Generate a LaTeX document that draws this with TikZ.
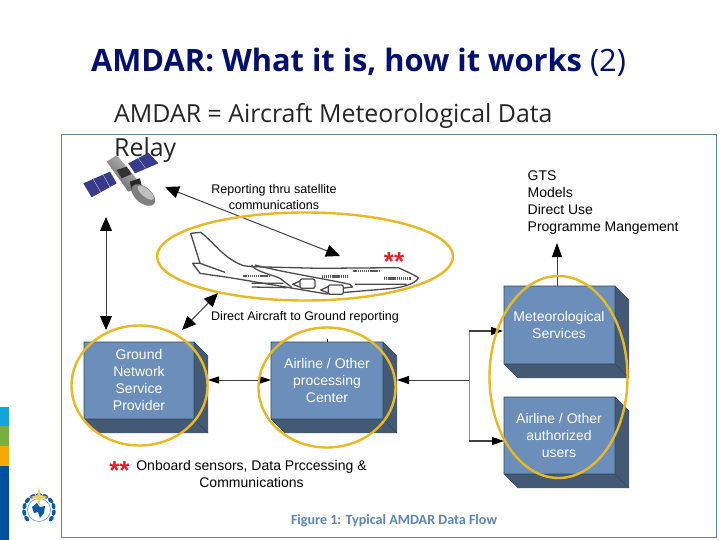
\documentclass[tikz,border=0pt]{standalone}
\usepackage{fontspec}
\setmainfont{Liberation Sans}
\newfontfamily\titlefont{Open Sans}
\newfontfamily\capfont{Carlito}
\usetikzlibrary{arrows.meta}
\definecolor{boxfront}{HTML}{6C8EBB}
\definecolor{boxside}{HTML}{445A74}
\definecolor{boxedge}{HTML}{2F4A50}
\definecolor{ringc}{HTML}{E8B923}
\definecolor{framec}{HTML}{5F8296}
\definecolor{titlec}{HTML}{00106E}
\definecolor{capc}{HTML}{5B86B8}
\definecolor{starc}{HTML}{E0202A}
\definecolor{wmob}{HTML}{0B5AA5}
\definecolor{stripa}{HTML}{12A5D8}
\definecolor{stripb}{HTML}{78B040}
\definecolor{stripc}{HTML}{F5A800}
\definecolor{stripd}{HTML}{0050A0}
\definecolor{panelc}{HTML}{3A3A8A}
\tikzset{
  lbl/.style={inner sep=0pt,text=black,font=\fontsize{12.5}{15.5}\selectfont,align=center},
  boxt/.style={inner sep=0pt,text=white,font=\fontsize{14}{17}\selectfont,align=center},
  ring/.style={draw=ringc,line width=2.4pt},
  conn/.style={draw=black!75,line width=1pt,{Triangle[length=14pt,width=12pt,black]}-{Triangle[length=14pt,width=12pt,black]}},
  connsm/.style={draw=black!75,line width=.8pt,{Triangle[length=11pt,width=7pt,black]}-{Triangle[length=11pt,width=7pt,black]}},
  connr/.style={draw=black!75,line width=.8pt,-{Triangle[length=12pt,width=8pt,black]}},
  stars/.style={inner sep=0pt,text=starc,font=\bfseries\fontsize{26}{26}\selectfont},
  planeline/.style={draw=black!70,line width=1.3pt,line join=round},
  win/.style={draw=black!65,line width=2.4pt,dash pattern=on 1.4pt off .7pt},
}
\newcommand{\cube}[4]{% x1 y1 x2 y2
  \fill[boxside] (#1,#4) -- (#1+14,#4+14) -- (#3+14,#4+14) -- (#3+14,#2+14) -- (#3,#2) -- (#3,#4) -- cycle;
  \fill[boxfront] (#1,#2) rectangle (#3,#4);
  \draw[boxedge,line width=.6pt] (#1,#2) rectangle (#3,#4) (#3,#4) -- (#3+14,#4+14) (#3,#2) -- (#3+14,#2+14) (#1,#4) -- (#1+14,#4+14);
}
\begin{document}
\begin{tikzpicture}[x=1pt,y=-1pt]
\useasboundingbox (0,0) rectangle (720,540);
\fill[white] (0,0) rectangle (720,540);
% side strip
\fill[stripa] (0,407) rectangle (9,426);
\fill[stripb] (0,426) rectangle (9,446);
\fill[stripc] (0,446) rectangle (9,466);
\fill[stripd] (0,466) rectangle (9,540);
% frame
\draw[framec,line width=.9pt] (61.5,134.5) rectangle (716.5,537);
% title
\node[inner sep=0pt,anchor=base west,text=titlec,font=\titlefont\fontsize{30.8}{32}\selectfont] (title) at (91,72) {\textbf{AMDAR: What it is, how it works} (2)};
\node[inner sep=0pt,anchor=base west,text=black!85,font=\titlefont\fontsize{24.9}{30}\selectfont] (sub1) at (114,123) {AMDAR = Aircraft Meteorological Data};
\node[inner sep=0pt,anchor=base west,text=black!85,font=\titlefont\fontsize{24.9}{30}\selectfont] (sub2) at (114,157) {Relay};
% WMO logo
\begin{scope}[shift={(39,510)}]
  \foreach \a in {55,80,...,310}{\fill[wmob,rotate=\a] (0,15) ellipse (3.2pt and 2pt);}
  \draw[wmob!60,line width=.6pt] (0,0) circle (11.5);
  \fill[wmob] (-7,-3) -- (-2,-7) -- (1,-3) -- (6,-4) -- (5,3) -- (1,8) -- (-1,2) -- (-5,3) -- cycle;
  \fill[ringc!70!white] (0,-23) -- (1.6,-15) -- (9,-13) -- (1.6,-11) -- (0,-3) -- (-1.6,-11) -- (-9,-13) -- (-1.6,-15) -- cycle;
\end{scope}
% boxes
\cube{84}{342}{194}{419}
\cube{271}{342}{383}{419}
\cube{504}{286}{615}{364}
\cube{504}{397}{615}{474}
\coordinate (gtop) at (106,330);
\coordinate (gdiag) at (182,330);
\coordinate (gr) at (208,380);
\coordinate (cl) at (271,380);
\coordinate (cr) at (397,380);
\coordinate (jn) at (469,380);
\coordinate (jt) at (469,331);
\coordinate (jb) at (469,441);
\coordinate (ml) at (503,331);
\coordinate (ul) at (504,441);
\coordinate (mt) at (557,286);
\coordinate (mup) at (557,243);
\coordinate (satb) at (106,217);
\coordinate (satr) at (165,187);
\coordinate (pl) at (340,256);
\coordinate (pb) at (218,293);
% connectors
\draw[conn] (satb) -- (gtop);
\draw[conn] (satr) -- (pl);
\draw[conn] (pb) -- (gdiag);
\draw[connsm] (gr) -- (cl);
\draw[connr] (jn) -- (cr);
\draw[draw=black!45,line width=.7pt] (jt) -- (jb);
\draw[connr,line width=1.2pt] (jt) -- (ml);
\draw[connr,line width=1.2pt] (jb) -- (ul);
\draw[connr,-{Triangle[length=14pt,width=10pt,black]}] (mt) -- (mup);
\draw[black,line width=.5pt] (327,339) -- (327,342);
% satellite (crop coordinates)
\begin{scope}[shift={(75,150)},x=.3333pt,y=-.3333pt]
  \fill[panelc] (25,100) -- (105,65) -- (125,100) -- (50,142) -- cycle;
  \fill[panelc] (160,40) -- (220,8) -- (250,40) -- (180,70) -- cycle;
  \draw[white!70!panelc,line width=.4pt] (55,88) -- (78,128) (85,75) -- (105,112) (190,25) -- (212,55);
  \shade[left color=black!25,right color=black!60,shading angle=-40] (95,35) -- (125,15) -- (200,105) -- (160,125) -- cycle;
  \fill[black!80] (125,60) -- (155,50) -- (170,72) -- (140,85) -- cycle;
  \fill[black!85] (165,95) -- (195,85) -- (200,108) -- (170,125) -- cycle;
  \fill[black!50,rotate around={-40:(205,135)}] (205,135) ellipse (42 and 24);
  \fill[black!25,rotate around={-40:(212,128)}] (212,128) ellipse (30 and 12);
\end{scope}
% aeroplane (crop coordinates)
\begin{scope}[shift={(180,225)},x=.3333pt,y=-.3333pt]
  \draw[planeline] (32,25) -- (62,22) .. controls (100,50) and (130,100) .. (190,122) -- (215,125) -- (420,130) -- (655,128) .. controls (680,140) and (700,148) .. (715,158) .. controls (712,172) and (680,185) .. (640,190) -- (520,200) -- (440,207) -- (340,190) -- (150,158) -- (60,145) -- (38,115) -- (60,115) -- (135,142);
  \draw[planeline] (32,25) -- (60,115);
  \draw[planeline] (215,120) .. controls (225,140) and (280,150) .. (300,160) -- (335,187);
  \draw[planeline] (225,120) .. controls (300,140) and (400,155) .. (510,178) -- (518,186) -- (485,190);
  \draw[planeline] (215,175) -- (310,175) (215,186) -- (320,188) (525,178) -- (680,178);
  \draw[planeline,fill=white,rounded corners=2pt] (360,162) rectangle (405,190);
  \draw[planeline,fill=white,rounded corners=2pt] (445,180) rectangle (490,208);
  \draw[planeline] (360,168) -- (338,178) -- (360,186);
  \draw[planeline] (445,185) -- (422,195) -- (445,204);
  \draw[win] (190,153) -- (270,153) (425,155) -- (505,155) (520,138) -- (600,138) (612,160) -- (692,160);
\end{scope}
% labels in boxes
\node[boxt] (n1) at (139,379.5) {Ground\\Network\\Service\\Provider};
\node[boxt] (n2) at (327,380) {Airline / Other\\processing\\Center};
\node[boxt] (n3) at (559,325) {Meteorological\\Services};
\node[boxt] (n4) at (559,435) {Airline / Other\\authorized\\users};
% rings
\draw[ring] (305,256.5) ellipse (148 and 44);
\draw[ring] (139.5,385.5) ellipse (68 and 60);
\draw[ring] (327,387.5) ellipse (68.5 and 60);
\draw[ring] (558.5,377) ellipse (69 and 101);
% labels
\node[lbl] (l1) at (274,197) {Reporting thru satellite\\communications};
\node[lbl,anchor=west] (l2) at (211,317) {Direct Aircraft to Ground reporting};
\node[lbl,anchor=north west,align=left,font=\fontsize{14}{17}\selectfont] (l3) at (527.5,171) {GTS\\Models\\Direct Use\\Programme Mangement};
\node[lbl,font=\fontsize{14}{17}\selectfont] (l4) at (251.5,474) {Onboard sensors, Data Prccessing \&\\Communications};
\node[stars] (s1) at (394,262) {**};
\node[stars] (s2) at (119.5,471) {**};
\node[inner sep=0pt,text=capc,font=\capfont\bfseries\fontsize{14.1}{16}\selectfont] (cap) at (394,521) {Figure 1: Typical AMDAR Data Flow};
\end{tikzpicture}
\end{document}
